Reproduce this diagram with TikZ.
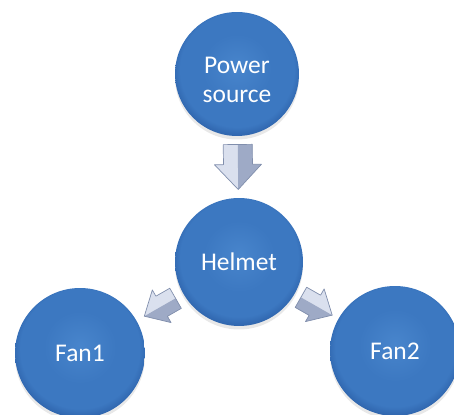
\documentclass[tikz,border=0pt]{standalone}
\usepackage{fontspec}
\setmainfont{Carlito}
\usetikzlibrary{shadows}

\definecolor{bubtop}{RGB}{72,133,204}
\definecolor{bubmid}{RGB}{60,120,193}
\definecolor{bubrim}{RGB}{45,98,170}
\definecolor{arrowlight}{RGB}{218,224,238}
\definecolor{arrowdark}{RGB}{158,170,198}
\definecolor{arrowedge}{RGB}{128,142,172}

\pgfdeclareradialshading{bubble}{\pgfpoint{0bp}{3bp}}{%
  color(0bp)=(bubtop); color(14bp)=(bubmid); color(23bp)=(bubmid);
  color(27bp)=(bubrim); color(50bp)=(bubrim)}

\tikzset{
  ball/.style={circle, shading=bubble, text=white, inner sep=0pt,
    align=center, font=\fontsize{14.5}{16.5}\selectfont,
    drop shadow={shadow xshift=0pt, shadow yshift=-2pt, opacity=0.18}},
  % block arrow, local x along the path, in px units
  blockarrow/.pic={
    \fill[arrowlight] (-22.5,0) -- (-22.5,-14.5) -- (-2.5,-14.5) -- (-2.5,-23.5) -- (22.5,0) -- cycle;
    \fill[arrowdark]  (-22.5,0) -- (-22.5, 14.5) -- (-2.5, 14.5) -- (-2.5, 23.5) -- (22.5,0) -- cycle;
    \draw[arrowedge, line join=round, thin] (-22.5,-14.5) -- (-2.5,-14.5) -- (-2.5,-23.5) -- (22.5,0)
      -- (-2.5,23.5) -- (-2.5,14.5) -- (-22.5,14.5) -- cycle;
  }
}

\begin{document}
\begin{tikzpicture}[x=0.02cm, y=0.02cm]

  % canvas 454 x 415 px, y counted upward
  \useasboundingbox (0,0) rectangle (454,415);
  \clip (0,0) rectangle (454,415);

  % Circles
  \node[ball, minimum size=2.48cm] (power)  at (237,341) {\rule{0pt}{16.5pt}Power\\source};
  \node[ball, minimum size=2.56cm] (helmet) at (239,153) {Helmet};
  \node[ball, minimum size=2.60cm] (fan1)   at ( 80, 62) {Fan1};
  \node[ball, minimum size=2.60cm] (fan2)   at (395, 64) {Fan2};

  % Arrows between the circles
  \path (power)  -- pic[pos=0.5, sloped, allow upside down] {blockarrow} (helmet);
  \path (helmet) -- pic[pos=0.5, sloped, allow upside down, scale=0.8] {blockarrow} (fan1);
  \path (helmet) -- pic[pos=0.5, sloped, allow upside down, scale=0.8, yscale=-1] {blockarrow} (fan2);

\end{tikzpicture}
\end{document}
